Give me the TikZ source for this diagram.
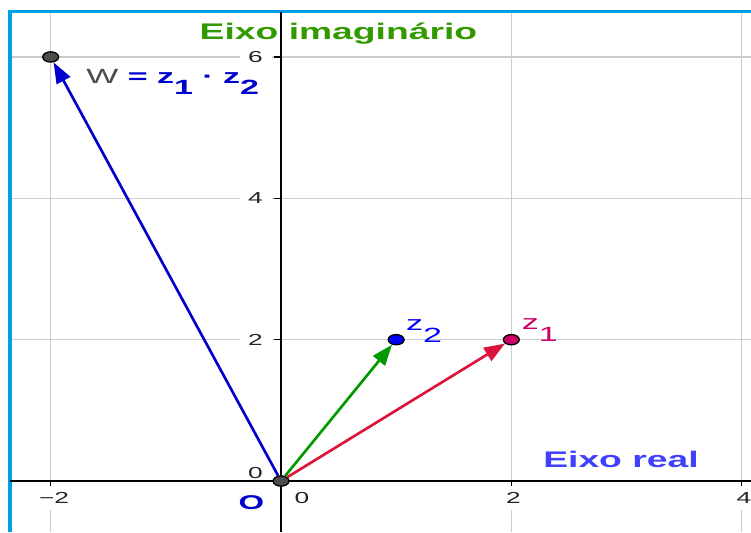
\documentclass[tikz,border=0pt]{standalone}
\usepackage{fontspec}
\setmainfont{Liberation Sans}[FakeStretch=1.65]
\usetikzlibrary{arrows.meta,shapes.geometric}
\definecolor{framec}{RGB}{0,160,228}
\definecolor{gridc}{RGB}{204,204,204}
\definecolor{axgreen}{RGB}{51,153,0}
\definecolor{axblue}{RGB}{64,64,255}
\definecolor{wblue}{RGB}{0,0,204}
\definecolor{zgreen}{RGB}{0,153,0}
\definecolor{zred}{RGB}{220,20,60}
\definecolor{zmag}{RGB}{204,0,102}
\definecolor{zblue}{RGB}{0,0,255}
\definecolor{ptgray}{RGB}{77,77,77}
\definecolor{numc}{RGB}{37,37,37}
\newcommand{\zsub}[1]{\raisebox{-0.55em}{#1}}
\tikzset{
  gridln/.style={gridc,line width=1.1pt},
  num/.style={font=\fontsize{12}{14}\selectfont,text=numc,fill=white,inner xsep=6.5pt,inner ysep=5pt},
  vec/.style={-{Triangle[length=5.5mm,width=4mm]},line width=2pt},
  pt/.style={ellipse,draw=black,line width=1pt,minimum width=4.2mm,minimum height=2.7mm,inner sep=0pt},
  lab/.style={inner sep=0pt,anchor=base west,font=\fontsize{15.5}{18}\selectfont},
  ttl/.style={inner sep=0pt,anchor=base,font=\fontsize{17}{20}\selectfont\bfseries}
}
\begin{document}
\begin{tikzpicture}[x=3.047cm,y=1.870cm]
  \useasboundingbox (-2.44,-0.722) rectangle (4.081,6.806);
  \foreach \a in {-2,2,4} \draw[gridln] (\a,-0.722)--(\a,6.637);
  \foreach \b in {2,4,6} \draw[gridln] (-2.353,\b)--(4.081,\b);
  \foreach \b in {2,4,6} \node[num] (y\b) at (-0.221,\b) {\b};
  \node[num] (y0) at (-0.221,0.113) {0};
  \node[num] (xm2) at (-1.971,-0.241) {−2};
  \node[num] (x0) at (0.182,-0.241) {0};
  \node[num] (x2) at (2.019,-0.241) {2};
  \node[num] (x4) at (4.02,-0.241) {4};

  \draw[framec,line width=2.3pt] (-2.353,-0.722)--(-2.353,6.637)--(4.081,6.637);
  \draw[black,line width=1.2pt] (-2.353,0)--(4.081,0);
  \draw[black,line width=1.9pt] (0,-0.722)--(0,6.637);
  \foreach \a in {-2,2,4} \draw[black,line width=1.1pt] (\a,0)--++(0,-0.07);
  \foreach \b in {2,4,6} \draw[black,line width=1.1pt] (0,\b)--++(-0.06,0);

  \node[pt,fill=ptgray] (O) at (0,0) {};
  \node[pt,fill=ptgray] (W) at (-2,6) {};
  \node[pt,fill=zblue] (z2) at (1,2) {};
  \node[pt,fill=zmag] (z1) at (2,2) {};
  \draw[vec,wblue] (O)--(W);
  \draw[vec,zgreen] (O)--(z2);
  \draw[vec,zred] (O)--(z1);

  \node[lab,text=zmag] (l1) at (2.090,2.137) {z\zsub{1}};
  \node[lab,text=zblue] (l2) at (1.085,2.127) {z\zsub{2}};
  \node[lab,font=\fontsize{15.5}{18}\selectfont] (lw) at (-1.693,5.627)
    {\textcolor{ptgray}{W} \textcolor{wblue}{\bfseries = z\zsub{1} · z\zsub{2}}};
  \node[ttl,text=axgreen] (ei) at (0.499,6.254) {Eixo imaginário};
  \node[ttl,text=axblue] (er) at (2.952,0.194) {Eixo real};
  \node[ttl,text=wblue,font=\fontsize{15}{17}\selectfont\bfseries] (lo) at (-0.256,-0.396) {O};
\end{tikzpicture}
\end{document}
